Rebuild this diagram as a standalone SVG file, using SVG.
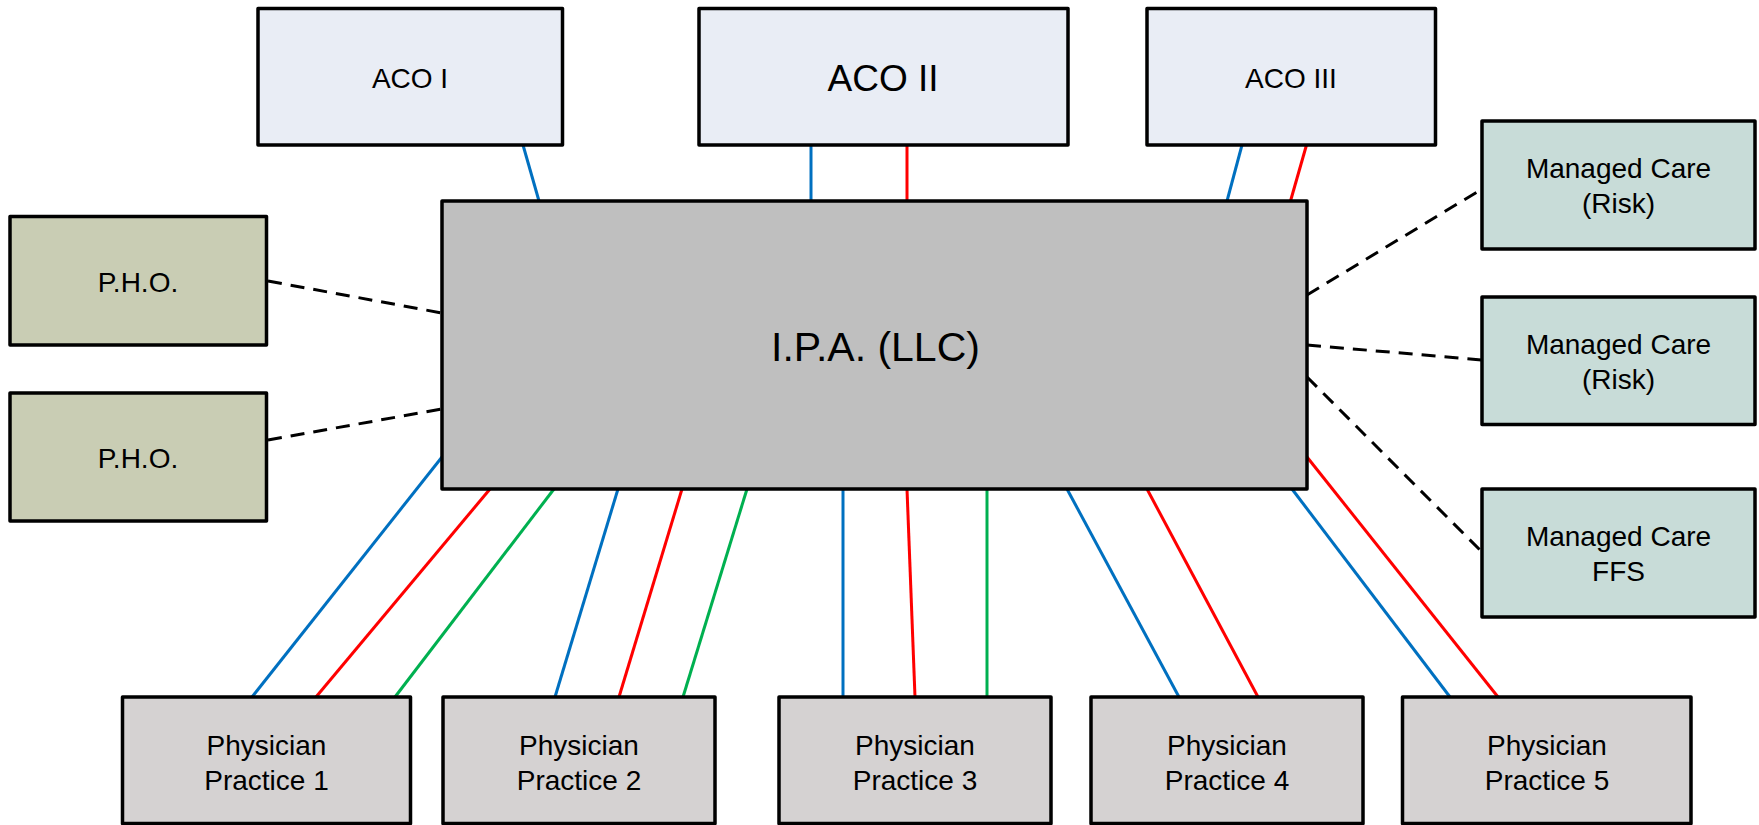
<svg xmlns="http://www.w3.org/2000/svg" width="1759" height="825" viewBox="0 0 1759 825">
<style>
.box{stroke:#000;stroke-width:3.5;stroke-linejoin:round}
.aco{fill:#E9EDF5}
.pho{fill:#C9CDB4}
.mc{fill:#C8DCD8}
.ipa{fill:#BFBFBF}
.pp{fill:#D5D2D2}
.t{font-family:"Liberation Sans",Arial,sans-serif;font-size:28px;fill:#000;text-anchor:middle}
.c{stroke-width:3;fill:none}
.b{stroke:#0070C0}
.r{stroke:#FF0000}
.g{stroke:#00B050}
.d{stroke:#000;stroke-dasharray:14 9}
</style>
<rect width="1759" height="825" fill="#fff"/>
<g id="connectors">
<line class="c b" x1="523" y1="145" x2="539" y2="201"/>
<line class="c b" x1="811" y1="145" x2="811" y2="201"/>
<line class="c r" x1="907" y1="145" x2="907" y2="201"/>
<line class="c b" x1="1242" y1="145" x2="1227" y2="201"/>
<line class="c r" x1="1306.5" y1="145" x2="1290.5" y2="201"/>
<line class="c d" x1="268" y1="281" x2="442" y2="313"/>
<line class="c d" x1="268" y1="440" x2="442" y2="409"/>
<line class="c d" x1="1307" y1="295" x2="1482" y2="189"/>
<line class="c d" x1="1307" y1="345" x2="1482" y2="360"/>
<line class="c d" x1="1307" y1="377" x2="1482" y2="552"/>
<line class="c b" x1="442" y1="457" x2="252" y2="697"/>
<line class="c r" x1="490" y1="489" x2="316" y2="697"/>
<line class="c g" x1="554" y1="489" x2="395" y2="697"/>
<line class="c b" x1="618" y1="489" x2="555" y2="697"/>
<line class="c r" x1="682" y1="489" x2="619" y2="697"/>
<line class="c g" x1="747" y1="489" x2="683" y2="697"/>
<line class="c b" x1="843" y1="489" x2="843" y2="697"/>
<line class="c r" x1="907" y1="489" x2="915" y2="697"/>
<line class="c g" x1="987" y1="489" x2="987" y2="697"/>
<line class="c b" x1="1067" y1="489" x2="1179" y2="697"/>
<line class="c r" x1="1147" y1="489" x2="1258" y2="697"/>
<line class="c b" x1="1292" y1="489" x2="1450" y2="697"/>
<line class="c r" x1="1307" y1="457" x2="1498" y2="697"/>
</g>
<g id="aco1"><rect class="box aco" x="258" y="8.5" width="304.5" height="136.5"/><text class="t" x="410" y="88">ACO I</text></g>
<g id="aco2"><rect class="box aco" x="699" y="8.5" width="369" height="136.5"/><text class="t" x="883" y="90.5" style="font-size:37px">ACO II</text></g>
<g id="aco3"><rect class="box aco" x="1147" y="8.5" width="288.5" height="136.5"/><text class="t" x="1291" y="88">ACO III</text></g>
<g id="pho1"><rect class="box pho" x="10" y="216.5" width="256.5" height="128.5"/><text class="t" x="138" y="291.5">P.H.O.</text></g>
<g id="pho2"><rect class="box pho" x="10" y="393" width="256.5" height="128"/><text class="t" x="138" y="467.5">P.H.O.</text></g>
<g id="ipa"><rect class="box ipa" x="442" y="201" width="865" height="288"/><text class="t" x="875.5" y="361" style="font-size:41px">I.P.A. (LLC)</text></g>
<g id="mc1"><rect class="box mc" x="1482" y="121" width="273" height="128"/><text class="t" x="1618.5" y="177.5">Managed Care</text><text class="t" x="1618.5" y="212.5">(Risk)</text></g>
<g id="mc2"><rect class="box mc" x="1482" y="297" width="273" height="127.5"/><text class="t" x="1618.5" y="354">Managed Care</text><text class="t" x="1618.5" y="389">(Risk)</text></g>
<g id="mc3"><rect class="box mc" x="1482" y="489" width="273" height="128"/><text class="t" x="1618.5" y="545.5">Managed Care</text><text class="t" x="1618.5" y="581">FFS</text></g>
<g id="pp1"><rect class="box pp" x="122.5" y="697" width="288" height="126.5"/><text class="t" x="266.5" y="755">Physician</text><text class="t" x="266.5" y="789.5">Practice 1</text></g>
<g id="pp2"><rect class="box pp" x="443" y="697" width="272" height="126.5"/><text class="t" x="579" y="755">Physician</text><text class="t" x="579" y="789.5">Practice 2</text></g>
<g id="pp3"><rect class="box pp" x="779" y="697" width="272" height="126.5"/><text class="t" x="915" y="755">Physician</text><text class="t" x="915" y="789.5">Practice 3</text></g>
<g id="pp4"><rect class="box pp" x="1091" y="697" width="272" height="126.5"/><text class="t" x="1227" y="755">Physician</text><text class="t" x="1227" y="789.5">Practice 4</text></g>
<g id="pp5"><rect class="box pp" x="1402.5" y="697" width="288.5" height="126.5"/><text class="t" x="1547" y="755">Physician</text><text class="t" x="1547" y="789.5">Practice 5</text></g>
</svg>
